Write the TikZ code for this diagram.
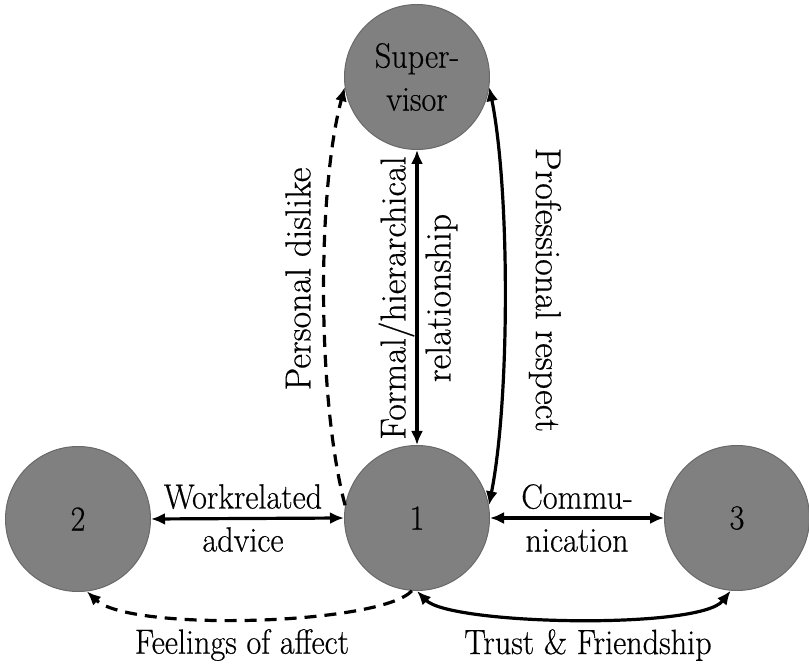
\documentclass[tikz,border=0pt]{standalone}
\usepackage{fontspec}
\newfontfamily\hfont{Latin Modern Roman}[FakeStretch=0.92,FakeBold=0.5]
\newfontfamily\vfont{Latin Modern Roman}[FakeBold=0.5]
\usetikzlibrary{arrows.meta}
\definecolor{nodegray}{RGB}{128,128,128}
\definecolor{edgegray}{RGB}{105,105,105}
\tikzset{
  actor/.style={circle, fill=nodegray, draw=edgegray, line width=1pt, minimum size=145pt, inner sep=0pt, align=center, font=\hfont\fontsize{35}{43}\selectfont},
  rel/.style={line width=3.2pt, black},
  reldash/.style={rel, dash pattern=on 12pt off 8pt},
  lbl/.style={align=center, inner sep=0pt, font=\hfont\fontsize{35}{43}\selectfont},
  vlbl/.style={align=center, inner sep=0pt, font=\vfont\fontsize{36}{45}\selectfont},
  >={Latex[length=14pt,width=12pt]}
}
\begin{document}
\begin{tikzpicture}[x=1pt,y=1pt]
\useasboundingbox[fill=white] (0,0) rectangle (809,670);
\node[actor] (sup) at (417,593) {Super-\\visor};
\node[actor] (n1) at (417,152) {1};
\node[actor] (n2) at (78,151) {2};
\node[actor] (n3) at (737,152) {3};
% straight relations
\draw[rel,<->] (sup.south) -- (n1.north);
\draw[rel,<->] (n2.east) -- (n1.west);
\draw[rel,<->] (n1.east) -- (n3.west);
% curved relations
\draw[reldash,->] (n1.170) .. controls (317,270) and (317,480) .. (sup.188);
\draw[rel,<->] (n1.10) .. controls (510,270) and (510,480) .. (sup.352);
\draw[reldash,->] (n1.266) .. controls (380,45) and (130,38) .. (n2.277);
\draw[rel,<->] (n1.south) .. controls (450,45) and (700,40) .. (n3.265);
% labels
\node[lbl] (lwork) at (243,152) {Workrelated\\advice};
\node[lbl] (lcomm) at (577,152) {Commu-\\nication};
\node[vlbl, rotate=90] (lformal) at (418,372) {Formal/hierarchical\\relationship};
\node[vlbl, rotate=90] (ldislike) at (298,391) {Personal dislike};
\node[vlbl, rotate=-90] (lrespect) at (545,380) {Professional respect};
\node[lbl] (laffect) at (242,25) {Feelings of affect};
\node[lbl] (ltrust) at (588,25) {Trust \& Friendship};
\end{tikzpicture}
\end{document}
